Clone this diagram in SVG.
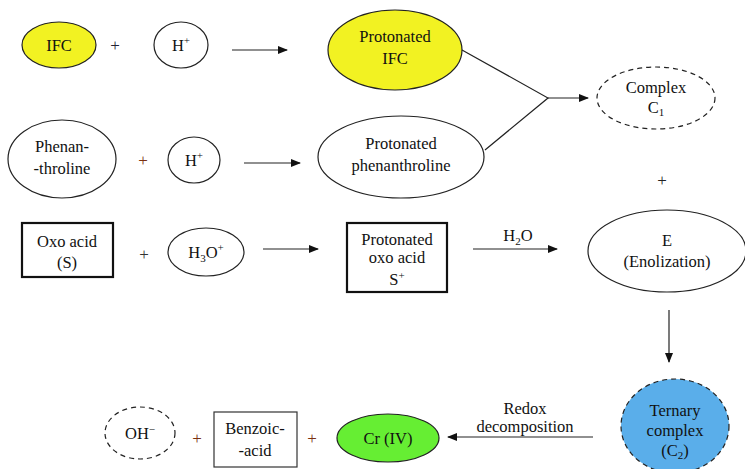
<svg xmlns="http://www.w3.org/2000/svg" width="745" height="469" viewBox="0 0 745 469" font-family="'Liberation Serif','DejaVu Serif','Noto Serif',serif">
<defs>
<style>
text{font-family:'Liberation Serif','DejaVu Serif','Noto Serif',serif;font-size:16.5px;fill:#111;text-anchor:middle}
.n{stroke:#222;stroke-width:1.2;fill:#fff}
.d{stroke-dasharray:5,4}
.b{stroke:#111;stroke-width:2.2;fill:#fff}
.c{stroke:#222;stroke-width:1.2;fill:none}
.p{fill:#7a3010;font-size:17px}
.s{font-size:11px}
</style>
<marker id="ah" markerWidth="10" markerHeight="8" refX="9" refY="4" orient="auto" markerUnits="userSpaceOnUse">
<path d="M0,0 L10,4 L0,8 Z" fill="#111"/>
</marker>
</defs>
<rect width="745" height="469" fill="#fff"/>

<g id="ifc"><ellipse class="n" cx="59" cy="45" rx="37" ry="23" style="fill:#f2f222"/><text x="59" y="51">IFC</text></g>
<text class="p" x="115" y="51" style="fill:#223">+</text>
<g id="hplus1"><ellipse class="n" cx="181" cy="45" rx="27" ry="23"/><text x="181" y="51">H<tspan class="s" dy="-7">+</tspan></text></g>
<g id="protIFC"><ellipse class="n" cx="395" cy="50" rx="67" ry="40" style="fill:#f2f222"/><text x="395" y="42">Protonated</text><text x="395" y="64">IFC</text></g>

<g id="phen"><ellipse class="n" cx="62" cy="159" rx="54" ry="39"/><text x="62" y="152">Phenan-</text><text x="62" y="174">-throline</text></g>
<text class="p" x="143" y="166">+</text>
<g id="hplus2"><ellipse class="n" cx="194" cy="160" rx="26" ry="23"/><text x="194" y="166">H<tspan class="s" dy="-7">+</tspan></text></g>
<g id="protPhen"><ellipse class="n" cx="401" cy="157" rx="83" ry="41"/><text x="401" y="149">Protonated</text><text x="401" y="171">phenanthroline</text></g>

<g id="complexC1"><ellipse class="n d" cx="656" cy="98" rx="59" ry="31"/><text x="656" y="93">Complex</text><text x="656" y="113">C<tspan class="s" dy="3">1</tspan></text></g>
<text class="p" x="662" y="186" style="fill:#222">+</text>

<g id="oxo"><rect class="b" x="22" y="223" width="91" height="54"/><text x="67" y="247">Oxo acid</text><text x="67" y="268">(S)</text></g>
<text class="p" x="144" y="260" style="fill:#333">+</text>
<g id="h3o"><ellipse class="n" cx="206" cy="252" rx="38" ry="24"/><text x="206" y="258">H<tspan class="s" dy="4">3</tspan><tspan dy="-4">O</tspan><tspan class="s" dy="-7">+</tspan></text></g>
<g id="protOxo"><rect class="b" x="347" y="223" width="100" height="69"/><text x="397" y="245">Protonated</text><text x="397" y="263">oxo acid</text><text x="397" y="285">S<tspan class="s" dy="-6">+</tspan></text></g>

<g id="enol"><ellipse class="n" cx="667" cy="251" rx="79" ry="41"/><text x="667" y="246">E</text><text x="667" y="267">(Enolization)</text></g>

<g id="ternary"><ellipse class="n d" cx="675" cy="426" rx="54" ry="47" style="fill:#5aaeea"/><text x="675" y="416">Ternary</text><text x="675" y="436">complex</text><text x="675" y="456">(C<tspan class="s" dy="3">2</tspan><tspan dy="-3">)</tspan></text></g>

<g id="oh"><ellipse class="n d" cx="140" cy="433" rx="35" ry="26"/><text x="140" y="439">OH<tspan class="s" dy="-6">−</tspan></text></g>
<text class="p" x="197" y="444">+</text>
<g id="benzoic"><rect x="214" y="412" width="83" height="55" fill="#fff" stroke="#333" stroke-width="1.2"/><text x="255" y="434">Benzoic-</text><text x="255" y="456">-acid</text></g>
<text class="p" x="312" y="444">+</text>
<g id="cr"><ellipse class="n" cx="388" cy="438" rx="51" ry="24" style="fill:#66ee33"/><text x="388" y="444">Cr (IV)</text></g>

<g id="connectors">
<line class="c" x1="232" y1="50" x2="287" y2="50" marker-end="url(#ah)"/>
<line class="c" x1="244" y1="163" x2="300" y2="163" marker-end="url(#ah)"/>
<line class="c" x1="263" y1="249" x2="318" y2="249" marker-end="url(#ah)"/>
<polyline class="c" points="462,50 548,98 485,150"/>
<line class="c" x1="548" y1="98" x2="588" y2="98" stroke-width="2" marker-end="url(#ah)"/>
<line class="c" x1="473" y1="249" x2="557" y2="249" marker-end="url(#ah)"/>
<text x="518" y="241">H<tspan class="s" dy="4">2</tspan><tspan dy="-4">O</tspan></text>
<line class="c" x1="669" y1="310" x2="669" y2="362" marker-end="url(#ah)"/>
<line class="c" x1="593" y1="437" x2="448" y2="437" marker-end="url(#ah)"/>
<text x="525" y="414">Redox</text>
<text x="525" y="432">decomposition</text>
</g>
</svg>
